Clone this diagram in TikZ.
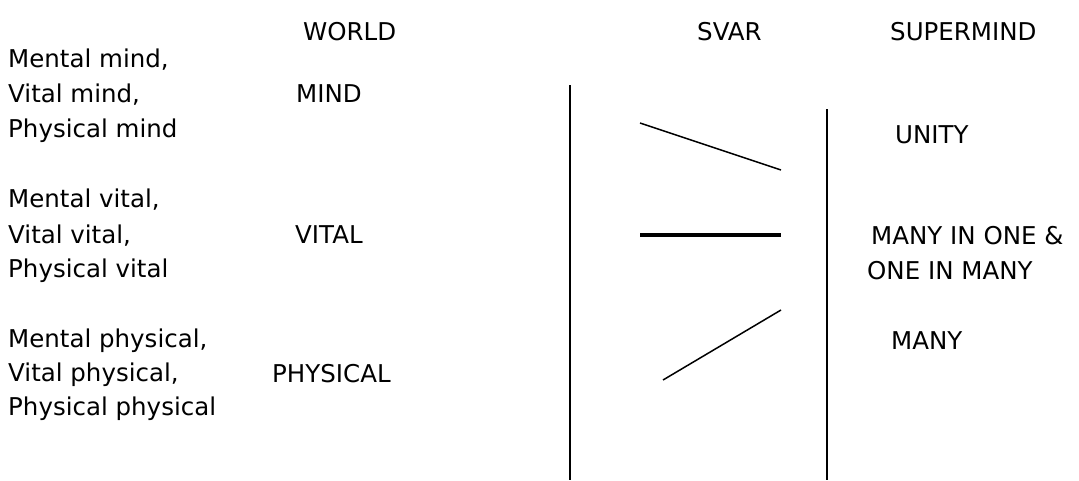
\documentclass[tikz,border=0pt]{standalone}
\usepackage{fontspec}
\setmainfont{DejaVu Sans}
\begin{document}
\begin{tikzpicture}[x=1pt,y=-1pt,every node/.style={inner sep=0pt,anchor=base west,font=\fontsize{24.5pt}{29pt}\selectfont}]
\tikzstyle{bar}=[draw,black,line width=1.5pt]
\tikzstyle{thickbar}=[draw,black,line width=4pt]
\useasboundingbox (0,0) rectangle (1079,480);

\node(h1) at (303,40){WORLD};
\node(h2) at (697,40){SVAR};
\node(h3) at (890,40){SUPERMIND};

\node(n10) at (8,67){Mental mind,};
\node(n20) at (8,102){Vital mind,};
\node(n21) at (296,102){MIND};
\node(n30) at (8,137){Physical mind};
\node(n33) at (895,143){UNITY};

\node(n40) at (8,207){Mental vital,};
\node(n50) at (8,243){Vital vital,};
\node(n51) at (295,243){VITAL};
\node(n53) at (871,244){MANY IN ONE \&};
\node(n60) at (8,277){Physical vital};
\node(n63) at (867,279){ONE IN MANY};

\node(n70) at (8,347){Mental physical,};
\node(n73) at (891,349){MANY};
\node(n80) at (8,381){Vital physical,};
\node(n81) at (272,382){PHYSICAL};
\node(n90) at (8,415){Physical physical};

\coordinate(v1t) at (570,85);
\coordinate(v1b) at (570,480);
\coordinate(v2t) at (827,109);
\coordinate(v2b) at (827,480);
\coordinate(a1) at (640,123);
\coordinate(b1) at (781,170);
\coordinate(a2) at (640,235);
\coordinate(b2) at (781,235);
\coordinate(a3) at (663,380);
\coordinate(b3) at (781,310);

\path[bar](v1t)--(v1b);
\path[bar](v2t)--(v2b);
\path[bar](a1)--(b1);
\path[thickbar](a2)--(b2);
\path[bar](a3)--(b3);
\end{tikzpicture}
\end{document}
